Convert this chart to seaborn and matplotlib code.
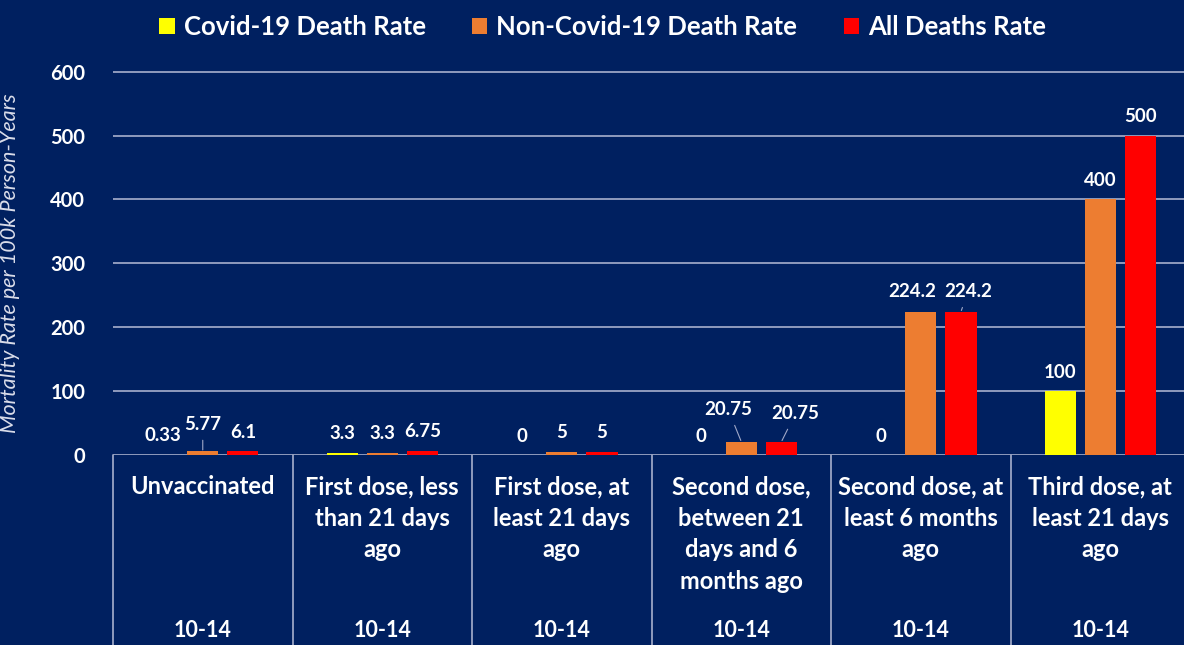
import pandas as pd
import matplotlib
matplotlib.use("Agg")
import matplotlib.pyplot as plt
import matplotlib.transforms as mtransforms
import seaborn as sns

# --- chart data ---
groups = [
    "Unvaccinated",
    "First dose, less\nthan 21 days\nago",
    "First dose, at\nleast 21 days\nago",
    "Second dose,\nbetween 21\ndays and 6\nmonths ago",
    "Second dose, at\nleast 6 months\nago",
    "Third dose, at\nleast 21 days\nago",
]
age_band = ["10-14", "10-14", "10-14", "10-14", "10-14", "10-14"]
series = ["Covid-19 Death Rate", "Non-Covid-19 Death Rate", "All Deaths Rate"]
covid_rate = [0.33, 3.3, 0, 0, 0, 100]
non_covid_rate = [5.77, 3.3, 5, 20.75, 224.2, 400]
all_rate = [6.1, 6.75, 5, 20.75, 224.2, 500]
colors = ["#FFFF00", "#ED7D31", "#FF0000"]

BG = "#002060"
GRID = "#9AA4C4"

rows = []
for name, vals in zip(series, [covid_rate, non_covid_rate, all_rate]):
    for g, v in zip(groups, vals):
        rows.append({"group": g, "series": name, "rate": v})
df = pd.DataFrame(rows)

sns.set_style("dark", {"axes.facecolor": BG, "figure.facecolor": BG})
plt.rcParams["font.family"] = ["Lato", "DejaVu Sans"]

fig = plt.figure(figsize=(11.84, 6.45), dpi=100)
# plot area: x 113..1184 px, y 71..455 px
ax = fig.add_axes([113 / 1184, (645 - 455) / 645, 1071 / 1184, 384 / 645])
ax.set_facecolor(BG)

sns.barplot(data=df, x="group", y="rate", hue="series", order=groups,
            hue_order=series, palette=colors, saturation=1, width=0.67,
            gap=0.22, linewidth=0, ax=ax)

ax.set_ylim(0, 601)
ax.set_xlim(-0.5, 5.466)
ax.set_yticks(range(0, 700, 100))
ax.yaxis.grid(True, color=GRID, linewidth=1.3)
ax.set_axisbelow(True)
for s in ax.spines.values():
    s.set_visible(False)
ax.tick_params(axis="y", length=0, pad=20, labelcolor="white", labelsize=14.5)
for t in ax.get_yticklabels():
    t.set_fontweight("bold")
ax.set_xticks([])
ax.set_xlabel("")
ax.set_ylabel("Mortality Rate per 100k Person-Years", fontsize=15.5,
              style="italic", color="#DADDEA")
ax.yaxis.set_label_coords(-93 / 1071, 0.5)

# data labels; special offsets (pixels) where the original moved them
# key = (series index, group index)
offsets = {
    (1, 0): ((0, 27), True),
    (1, 3): ((-13, 32), True),
    (2, 3): ((14, 28), True),
    (1, 4): ((-9, 20), False),
    (2, 4): ((7, 20), True),
}
val_lists = [covid_rate, non_covid_rate, all_rate]
for si, cont in enumerate(ax.containers):
    for gi, bar in enumerate(cont):
        v = val_lists[si][gi]
        cx = bar.get_x() + bar.get_width() / 2
        top = bar.get_height()
        (dx, dy), line = offsets.get((si, gi), ((0, 19), False))
        kw = {}
        if line:
            kw["arrowprops"] = dict(arrowstyle="-", color="#A0A8C8", lw=0.8,
                                    shrinkA=3, shrinkB=1)
        ax.annotate(f"{v:g}", xy=(cx, top), xytext=(dx, dy),
                    textcoords="offset pixels", ha="center", va="center",
                    color="white", fontsize=13.5, fontweight="bold", **kw)

# category table under the axis
trans = mtransforms.blended_transform_factory(ax.transData, ax.transAxes)
for b in [x - 0.5 for x in range(6)]:
    ax.plot([b, b], [0, -0.5], transform=trans, color=GRID, lw=1.3,
            clip_on=False)
for i, (g, a) in enumerate(zip(groups, age_band)):
    ax.text(i, -0.053, g, transform=trans, ha="center", va="top",
            color="white", fontsize=17, fontweight="bold", linespacing=1.45)
    ax.text(i, -0.456, a, transform=trans, ha="center", va="center",
            color="white", fontsize=15.5, fontweight="bold")

sns.move_legend(ax, "center", bbox_to_anchor=(0.509, 0.958),
                bbox_transform=fig.transFigure, ncol=3, frameon=False,
                title=None, prop={"weight": "bold", "size": 18.5},
                labelcolor="white", handlelength=0.6, handleheight=0.6,
                handletextpad=0.35, columnspacing=1.8)

fig.savefig("out.png", dpi=100, facecolor=BG)
